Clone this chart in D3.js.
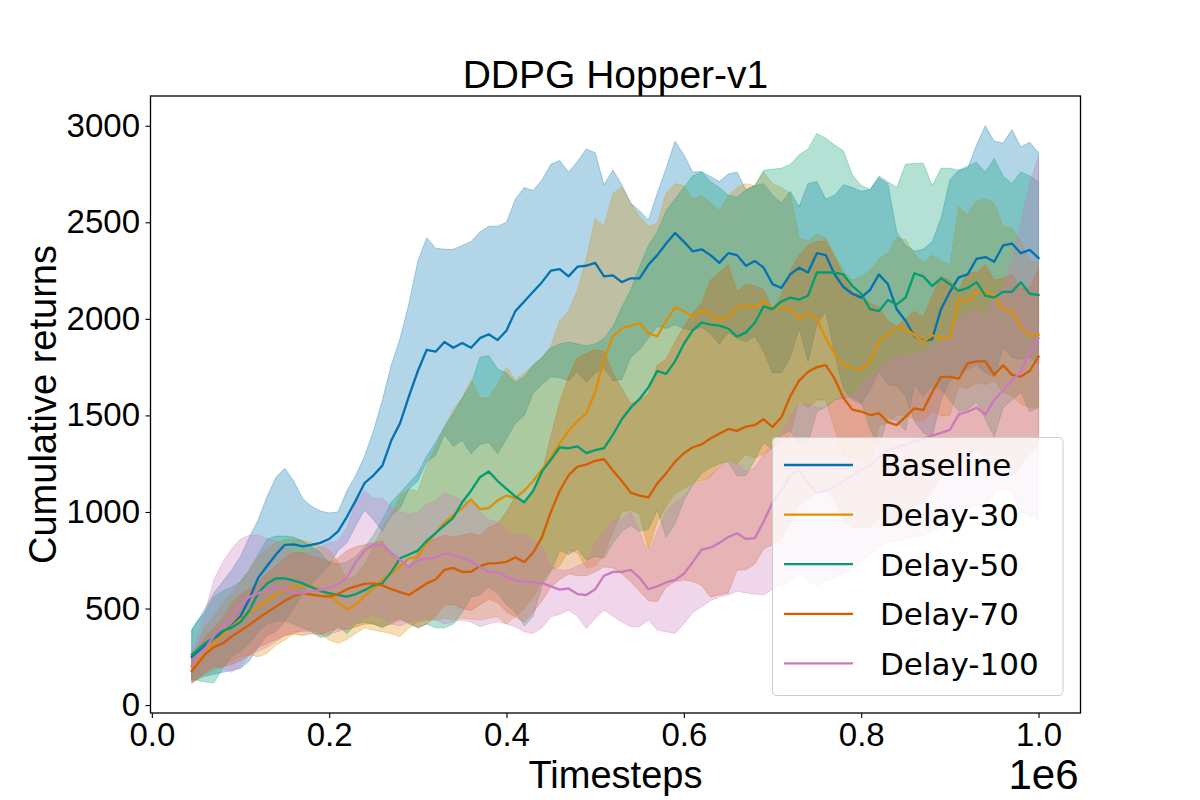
<!DOCTYPE html>
<html>
<head>
<meta charset="utf-8">
<script src="https://cdn.jsdelivr.net/npm/d3@7"></script>
<style>
  body { margin: 0; background: #ffffff; }
</style>
</head>
<body>
<div id="chart"></div>
<script>
// timesteps, in units of 1e6
const steps = [0.045, 0.05, 0.06, 0.07, 0.08, 0.09, 0.10,
  0.11, 0.12, 0.13, 0.14, 0.15, 0.16, 0.17, 0.18, 0.19, 0.20,
  0.21, 0.22, 0.23, 0.24, 0.25, 0.26, 0.27, 0.28, 0.29, 0.30,
  0.31, 0.32, 0.33, 0.34, 0.35, 0.36, 0.37, 0.38, 0.39, 0.40,
  0.41, 0.42, 0.43, 0.44, 0.45, 0.46, 0.47, 0.48, 0.49, 0.50,
  0.51, 0.52, 0.53, 0.54, 0.55, 0.56, 0.57, 0.58, 0.59, 0.60,
  0.61, 0.62, 0.63, 0.64, 0.65, 0.66, 0.67, 0.68, 0.69, 0.70,
  0.71, 0.72, 0.73, 0.74, 0.75, 0.76, 0.77, 0.78, 0.79, 0.80,
  0.81, 0.82, 0.83, 0.84, 0.85, 0.86, 0.87, 0.88, 0.89, 0.90,
  0.91, 0.92, 0.93, 0.94, 0.95, 0.96, 0.97, 0.98, 0.99, 1.00]

// Baseline
const baselineMean = [250, 270, 310, 345, 375, 410, 460,
  550, 660, 720, 780, 830, 832, 822, 830, 840, 860,
  900, 975, 1060, 1150, 1190, 1240, 1370, 1460, 1600, 1730,
  1840, 1830, 1880, 1850, 1875, 1850, 1900, 1920, 1890, 1940,
  2040, 2090, 2140, 2190, 2250, 2258, 2220, 2270, 2275, 2290,
  2220, 2225, 2190, 2210, 2210, 2280, 2330, 2390, 2445, 2400,
  2350, 2360, 2330, 2290, 2340, 2330, 2275, 2300, 2265, 2180,
  2160, 2230, 2265, 2240, 2340, 2330, 2230, 2165, 2130, 2110,
  2150, 2230, 2180, 2050, 1990, 1910, 1885, 1895, 2050, 2140,
  2215, 2230, 2310, 2320, 2296, 2380, 2390, 2340, 2357, 2315]
const baselineUpper = [390, 420, 500, 580, 640, 700, 770,
  870, 960, 1080, 1180, 1226, 1160, 1070, 1030, 1005, 995,
  1000, 1110, 1190, 1290, 1420, 1580, 1760, 1900, 2080, 2300,
  2420, 2366, 2360, 2360, 2380, 2400, 2450, 2480, 2480, 2500,
  2620, 2680, 2665, 2720, 2800, 2820, 2760, 2815, 2880, 2860,
  2694, 2771, 2694, 2600, 2560, 2512, 2650, 2780, 2920, 2850,
  2760, 2763, 2737, 2711, 2750, 2760, 2668, 2690, 2700, 2640,
  2600, 2660, 2580, 2700, 2711, 2620, 2640, 2694, 2680, 2660,
  2670, 2730, 2700, 2450, 2380, 2350, 2360, 2400, 2520, 2720,
  2770, 2780, 2900, 3000, 2920, 2910, 2980, 2890, 2915, 2860]
const baselineLower = [120, 130, 150, 160, 170, 180, 190,
  230, 300, 360, 380, 434, 504, 574, 630, 675, 725,
  800, 840, 930, 1010, 960, 900, 980, 1020, 1120, 1160,
  1260, 1294, 1400, 1340, 1370, 1300, 1350, 1360, 1300, 1380,
  1460, 1500, 1615, 1660, 1700, 1696, 1680, 1725, 1670, 1720,
  1746, 1680, 1686, 1800, 1840, 1900, 1960, 1950, 1970, 1950,
  1940, 1957, 1923, 1869, 1930, 1900, 1882, 1910, 1830, 1720,
  1720, 1800, 1950, 1780, 1970, 2040, 1820, 1636, 1580, 1560,
  1630, 1730, 1660, 1650, 1600, 1470, 1410, 1390, 1580, 1680,
  1720, 1740, 1760, 1720, 1700, 1850, 1800, 1790, 1800, 1770]

// Delay-30
const delay30Mean = [200, 220, 285, 320, 365, 405, 445,
  480, 510, 540, 575, 597, 615, 620, 615, 596, 570,
  530, 495, 520, 565, 605, 650, 680, 720, 760, 768,
  840, 890, 945, 985, 1020, 1065, 1015, 1020, 1060, 1085,
  1072, 1110, 1160, 1220, 1280, 1355, 1420, 1470, 1510, 1620,
  1790, 1910, 1950, 1965, 1977, 1925, 1910, 1990, 2060, 2040,
  2010, 2045, 2025, 1990, 2010, 2060, 2070, 2060, 2090, 2050,
  2060, 2050, 2000, 2025, 2000, 1900, 1820, 1760, 1745, 1740,
  1780, 1885, 1920, 1955, 1950, 1915, 1880, 1915, 1900, 1900,
  2100, 2090, 2141, 2141, 2120, 2046, 2040, 1960, 1910, 1917]
const delay30Upper = [270, 300, 410, 460, 530, 580, 640,
  700, 770, 810, 840, 857, 860, 851, 841, 822, 803,
  740, 650, 670, 730, 820, 920, 990, 1086, 1120, 1106,
  1240, 1340, 1440, 1530, 1590, 1685, 1590, 1590, 1663, 1750,
  1684, 1720, 1760, 1800, 1860, 1990, 2040, 2150, 2310, 2520,
  2480, 2650, 2680, 2600, 2530, 2480, 2495, 2650, 2700, 2690,
  2620, 2640, 2600, 2560, 2640, 2680, 2700, 2690, 2760, 2700,
  2680, 2650, 2420, 2400, 2440, 2420, 2330, 2250, 2200, 2220,
  2250, 2310, 2340, 2420, 2410, 2336, 2290, 2330, 2300, 2280,
  2580, 2540, 2610, 2620, 2600, 2480, 2470, 2400, 2300, 2294]
const delay30Lower = [130, 140, 160, 180, 200, 230, 250,
  260, 250, 268, 310, 337, 370, 389, 389, 370, 337,
  320, 340, 371, 400, 389, 380, 370, 354, 400, 430,
  440, 440, 450, 440, 450, 445, 440, 450, 457, 420,
  460, 500, 560, 640, 700, 720, 800, 790, 710, 720,
  780, 900, 1000, 1010, 990, 800, 950, 1030, 1096, 1120,
  1148, 1160, 1183, 1235, 1270, 1252, 1300, 1280, 1300, 1330,
  1360, 1400, 1580, 1540, 1580, 1580, 1430, 1290, 1280, 1280,
  1230, 1450, 1460, 1500, 1500, 1480, 1470, 1520, 1500, 1500,
  1650, 1640, 1670, 1660, 1680, 1620, 1600, 1560, 1540, 1540]

// Delay-50
const delay50Mean = [260, 280, 320, 350, 385, 400, 430,
  490, 580, 630, 656, 656, 645, 630, 610, 590, 580,
  570, 562, 575, 595, 620, 630, 690, 760, 780, 800,
  850, 890, 930, 970, 1050, 1110, 1180, 1210, 1160, 1120,
  1080, 1050, 1110, 1210, 1270, 1335, 1330, 1340, 1305, 1320,
  1330, 1400, 1480, 1540, 1585, 1645, 1730, 1715, 1780, 1870,
  1940, 1980, 1970, 1965, 1950, 1908, 1930, 1980, 2065, 2050,
  2090, 2110, 2100, 2120, 2240, 2240, 2240, 2230, 2170, 2130,
  2050, 2040, 2098, 2075, 2110, 2236, 2220, 2170, 2210, 2180,
  2145, 2160, 2190, 2120, 2110, 2140, 2140, 2190, 2130, 2124]
const delay50Upper = [390, 430, 480, 560, 590, 610, 640,
  700, 780, 860, 875, 875, 870, 850, 820, 790, 740,
  730, 740, 770, 820, 880, 960, 1050, 1100, 1150, 1200,
  1290, 1360, 1440, 1510, 1590, 1660, 1800, 1810, 1740, 1720,
  1670, 1700, 1760, 1800, 1850, 1870, 1880, 1870, 1860, 1870,
  1900, 1960, 2060, 2150, 2270, 2380, 2450, 2560, 2620, 2680,
  2740, 2760, 2711, 2680, 2640, 2630, 2668, 2690, 2770, 2775,
  2780, 2800, 2850, 2880, 2960, 2935, 2900, 2870, 2745, 2690,
  2670, 2740, 2710, 2680, 2800, 2806, 2806, 2690, 2780, 2780,
  2770, 2790, 2810, 2760, 2830, 2740, 2700, 2760, 2740, 2710]
const delay50Lower = [130, 130, 120, 115, 190, 250, 280,
  320, 380, 420, 437, 437, 420, 400, 380, 350, 360,
  410, 370, 420, 430, 420, 400, 430, 450, 420, 400,
  420, 400, 400, 420, 480, 560, 570, 610, 580, 520,
  480, 410, 460, 620, 690, 800, 780, 810, 750, 770,
  760, 840, 900, 930, 900, 910, 1010, 870, 940, 1060,
  1140, 1200, 1230, 1250, 1260, 1186, 1190, 1270, 1360, 1325,
  1400, 1420, 1350, 1360, 1520, 1545, 1580, 1590, 1595, 1570,
  1430, 1340, 1490, 1470, 1420, 1660, 1600, 1650, 1640, 1580,
  1520, 1530, 1570, 1480, 1390, 1540, 1580, 1620, 1520, 1540]

// Delay-70
const delay70Mean = [175, 205, 262, 300, 320, 355, 385,
  415, 450, 480, 510, 540, 565, 578, 572, 565, 562,
  575, 600, 615, 628, 630, 620, 600, 585, 570, 600,
  630, 650, 700, 710, 690, 690, 720, 734, 735, 742,
  765, 740, 790, 870, 1000, 1110, 1190, 1235, 1245, 1265,
  1273, 1215, 1160, 1100, 1085, 1075, 1148, 1200, 1260, 1304,
  1335, 1350, 1380, 1405, 1430, 1420, 1442, 1450, 1480, 1440,
  1490, 1600, 1680, 1725, 1750, 1760, 1690, 1590, 1530, 1520,
  1502, 1511, 1465, 1450, 1494, 1537, 1528, 1620, 1700, 1700,
  1690, 1770, 1780, 1780, 1710, 1760, 1710, 1701, 1730, 1804]
const delay70Upper = [240, 290, 354, 400, 450, 530, 570,
  600, 640, 680, 720, 760, 790, 790, 770, 760, 740,
  760, 800, 820, 830, 840, 850, 780, 730, 710, 800,
  860, 860, 880, 870, 880, 890, 880, 920, 940, 1000,
  1080, 1050, 1100, 1200, 1390, 1570, 1700, 1800, 1820, 1840,
  1830, 1720, 1640, 1560, 1580, 1610, 1760, 1790, 1880, 1960,
  2030, 2080, 2200, 2240, 2280, 2140, 2180, 2170, 2150, 2050,
  2120, 2250, 2330, 2380, 2400, 2400, 2320, 2220, 2140, 2120,
  2080, 2060, 1990, 1960, 2000, 2040, 2010, 2120, 2220, 2200,
  2150, 2240, 2240, 2280, 2200, 2210, 2230, 2160, 2160, 2258]
const delay70Lower = [110, 130, 170, 200, 200, 210, 230,
  260, 300, 320, 340, 360, 368, 360, 370, 364, 384,
  396, 390, 406, 420, 420, 406, 420, 440, 430, 400,
  420, 460, 520, 520, 500, 490, 520, 548, 530, 484,
  456, 430, 480, 540, 610, 650, 680, 670, 670, 690,
  716, 710, 680, 640, 590, 540, 536, 610, 640, 648,
  640, 620, 560, 570, 580, 700, 700, 730, 810, 830,
  860, 950, 1030, 1070, 1100, 1120, 1060, 960, 920, 920,
  924, 962, 940, 940, 988, 1034, 1046, 1120, 1180, 1200,
  1230, 1300, 1320, 1280, 1220, 1310, 1190, 1242, 1300, 1350]

// Delay-100
const delay100Mean = [205, 235, 290, 360, 410, 450, 520,
  560, 580, 595, 604, 604, 580, 578, 590, 595, 608,
  625, 660, 740, 800, 830, 830, 790, 750, 715, 750,
  758, 765, 785, 775, 765, 745, 716, 690, 688, 665,
  645, 639, 635, 632, 615, 598, 604, 575, 570, 600,
  670, 690, 690, 700, 660, 600, 615, 635, 648, 680,
  740, 805, 815, 840, 870, 890, 860, 865, 950, 1050,
  1110, 1190, 1215, 1150, 1100, 1110, 1130, 1160, 1190, 1220,
  1240, 1280, 1320, 1335, 1350, 1365, 1380, 1395, 1410, 1425,
  1505, 1519, 1540, 1505, 1580, 1630, 1680, 1725, 1830, 1900]
const delay100Upper = [280, 340, 480, 650, 740, 810, 860,
  880, 880, 860, 850, 820, 790, 780, 800, 820, 840,
  850, 920, 1050, 1110, 1070, 1070, 1030, 1000, 990, 1000,
  1040, 1060, 1100, 1080, 1060, 1050, 1000, 960, 950, 900,
  880, 880, 860, 820, 720, 700, 700, 720, 740, 840,
  900, 960, 960, 1000, 900, 780, 900, 1000, 1050, 1080,
  1140, 1150, 1190, 1230, 1260, 1250, 1210, 1230, 1300, 1340,
  1400, 1500, 1560, 1560, 1540, 1540, 1580, 1600, 1600, 1660,
  1700, 1740, 1780, 1800, 1810, 1820, 1830, 1860, 1880, 1900,
  2000, 2020, 2050, 2000, 2130, 2160, 2300, 2500, 2700, 2840]
const delay100Lower = [130, 140, 170, 200, 190, 170, 200,
  260, 280, 300, 330, 360, 380, 380, 380, 370, 370,
  380, 400, 430, 450, 470, 450, 420, 410, 430, 440,
  450, 440, 420, 430, 440, 430, 406, 420, 432, 420,
  406, 380, 371, 400, 457, 470, 492, 460, 397, 450,
  492, 460, 430, 406, 406, 440, 389, 380, 371, 420,
  480, 509, 540, 561, 570, 590, 580, 575, 570, 600,
  620, 650, 680, 640, 620, 640, 660, 680, 700, 740,
  780, 810, 840, 850, 860, 870, 880, 900, 920, 940,
  1000, 1010, 1040, 1020, 1100, 1120, 1100, 1000, 980, 960]

const seriesNames = ["Baseline", "Delay-30", "Delay-50", "Delay-70", "Delay-100"]
const seriesColors = ["#0173b2", "#de8f05", "#029e73", "#d55e00", "#cc78bc"]
const seriesMeans = [baselineMean, delay30Mean, delay50Mean, delay70Mean, delay100Mean]
const seriesUppers = [baselineUpper, delay30Upper, delay50Upper, delay70Upper, delay100Upper]
const seriesLowers = [baselineLower, delay30Lower, delay50Lower, delay70Lower, delay100Lower]

const xTicks = [0, 0.2, 0.4, 0.6, 0.8, 1.0]
const yTicks = [0, 500, 1000, 1500, 2000, 2500, 3000]

const plotFont = "'Liberation Sans', Arial, sans-serif"
const legendFont = "'DejaVu Sans', sans-serif"

// plot area, in page pixels
const box = {left: 150.5, top: 96, right: 1080.5, bottom: 713}

const svg = d3.select("#chart")
  .append("svg")
  .attr("width", 1200)
  .attr("height", 800)
  .style("display", "block")

svg.append("rect").attr("width", 1200).attr("height", 800).attr("fill", "#ffffff")

const xScale = d3.scaleLinear()
  .domain([-0.0015, 1.0473])
  .range([box.left, box.right])

const yScale = d3.scaleLinear()
  .domain([-41, 3154])
  .range([box.bottom, box.top])

// build one table per series: {t, mean, lo, hi}
const tables = seriesNames.map((name, s) => steps.map((t, i) => ({
  t: t,
  mean: seriesMeans[s][i],
  lo: seriesLowers[s][i],
  hi: seriesUppers[s][i]
})))

const area = d3.area()
  .x(d => xScale(d.t))
  .y0(d => yScale(d.lo))
  .y1(d => yScale(d.hi))

const line = d3.line()
  .x(d => xScale(d.t))
  .y(d => yScale(d.mean))

/* bands first, then the mean lines on top */
const bands = svg.append("g").attr("class", "bands")
tables.forEach((rows, s) => {
  bands.append("path")
    .datum(rows)
    .attr("d", area)
    .attr("fill", seriesColors[s])
    .attr("fill-opacity", 0.3)
    .attr("stroke", seriesColors[s])
    .attr("stroke-opacity", 0.3)
    .attr("stroke-width", 1)
})

const lines = svg.append("g").attr("class", "lines")
tables.forEach((rows, s) => {
  lines.append("path")
    .datum(rows)
    .attr("d", line)
    .attr("fill", "none")
    .attr("stroke", seriesColors[s])
    .attr("stroke-width", 2.3)
    .attr("stroke-linejoin", "round")
    .attr("stroke-linecap", "square")
})

/* axes */
const xAxis = d3.axisBottom(xScale)
  .tickValues(xTicks)
  .tickFormat(d3.format(".1f"))
  .tickSize(5)
  .tickPadding(5)

const yAxis = d3.axisLeft(yScale)
  .tickValues(yTicks)
  .tickFormat(d3.format("d"))
  .tickSize(5)
  .tickPadding(5.5)

const gx = svg.append("g")
  .attr("transform", `translate(0,${box.bottom})`)
  .call(xAxis)
const gy = svg.append("g")
  .attr("transform", `translate(${box.left},0)`)
  .call(yAxis)

;[gx, gy].forEach(g => {
  g.select(".domain").remove()
  g.selectAll(".tick line").attr("stroke", "#000").attr("stroke-width", 1.1)
  g.selectAll(".tick text")
    .attr("fill", "#000")
    .style("font-family", plotFont)
    .style("font-size", "33px")
})

// axes frame
svg.append("rect")
  .attr("x", box.left)
  .attr("y", box.top)
  .attr("width", box.right - box.left)
  .attr("height", box.bottom - box.top)
  .attr("fill", "none")
  .attr("stroke", "#000")
  .attr("stroke-width", 1.3)

/* titles */
svg.append("text")
  .attr("x", (box.left + box.right) / 2)
  .attr("y", 88)
  .attr("text-anchor", "middle")
  .style("font-family", plotFont)
  .style("font-size", "39px")
  .text("DDPG Hopper-v1")

svg.append("text")
  .attr("x", (box.left + box.right) / 2)
  .attr("y", 788)
  .attr("text-anchor", "middle")
  .style("font-family", plotFont)
  .style("font-size", "38px")
  .text("Timesteps")

svg.append("text")
  .attr("x", box.right - 2)
  .attr("y", 789)
  .attr("text-anchor", "end")
  .style("font-family", plotFont)
  .style("font-size", "42px")
  .text("1e6")

svg.append("text")
  .attr("transform", `translate(56,${(box.top + box.bottom) / 2}) rotate(-90)`)
  .attr("text-anchor", "middle")
  .style("font-family", plotFont)
  .style("font-size", "38px")
  .text("Cumulative returns")

/* legend */
const legend = svg.append("g").attr("class", "legend")
legend.append("rect")
  .attr("x", 772.5)
  .attr("y", 437.5)
  .attr("width", 290.5)
  .attr("height", 258)
  .attr("rx", 4)
  .attr("fill", "#ffffff")
  .attr("fill-opacity", 0.8)
  .attr("stroke", "#cccccc")
  .attr("stroke-width", 1)

seriesNames.forEach((name, s) => {
  const cy = 465 + s * 49.6
  legend.append("line")
    .attr("x1", 784).attr("x2", 853)
    .attr("y1", cy).attr("y2", cy)
    .attr("stroke", seriesColors[s])
    .attr("stroke-width", 2.3)
  legend.append("text")
    .attr("x", 880)
    .attr("y", cy + 11.3)
    .style("font-family", legendFont)
    .style("font-size", "31px")
    .attr("fill", "#000")
    .text(name)
})
</script>
</body>
</html>
